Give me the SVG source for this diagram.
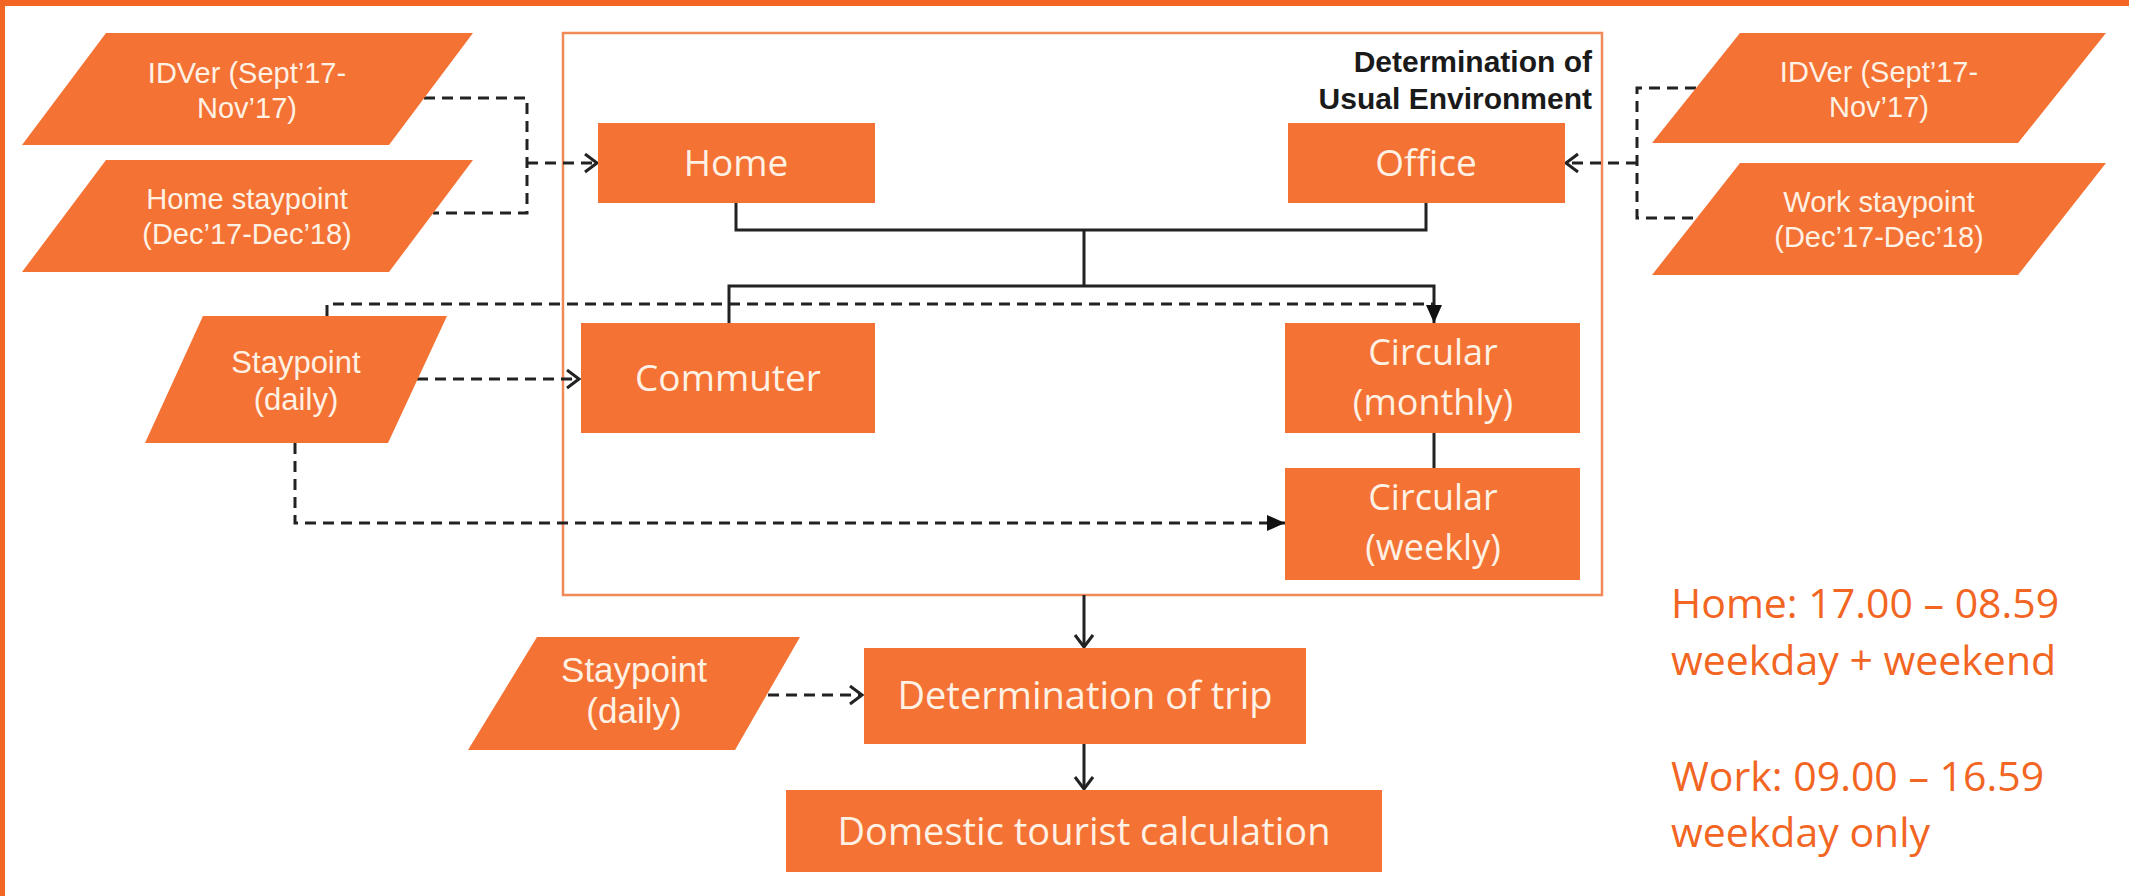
<svg xmlns="http://www.w3.org/2000/svg" width="2129" height="896" viewBox="0 0 2129 896">
<style>
.box{fill:#F37234;}
.lbl{font-family:"Open Sans","Liberation Sans",sans-serif;fill:#FFF1E4;text-anchor:middle;}
.arial{font-family:"Liberation Sans",Arial,sans-serif;fill:#FFF1E4;text-anchor:middle;}
.dash{fill:none;stroke:#222;stroke-width:3;stroke-dasharray:11 7;}
.solid{fill:none;stroke:#222;stroke-width:3;}
.note{font-family:"Open Sans","Liberation Sans",sans-serif;fill:#F26522;font-size:41px;}
</style>
<defs>
<marker id="open" markerUnits="userSpaceOnUse" markerWidth="18" markerHeight="22" refX="14" refY="10" orient="auto">
<path d="M2,1 L14,10 L2,19" fill="none" stroke="#222" stroke-width="3"/>
</marker>
<marker id="fill" markerUnits="userSpaceOnUse" markerWidth="20" markerHeight="18" refX="18" refY="9" orient="auto">
<path d="M0,1 L18,9 L0,17 z" fill="#111"/>
</marker>
</defs>
<rect x="0" y="0" width="2129" height="896" fill="#fff"/>
<rect x="0" y="0" width="2129" height="6" fill="#F26522"/>
<rect x="0" y="0" width="5" height="896" fill="#F26522"/>

<g id="container">
<rect x="563" y="33" width="1039" height="562" fill="none" stroke="#F08A58" stroke-width="2.5"/>
<text x="1592" y="72" font-family="Liberation Sans,Arial,sans-serif" font-weight="bold" font-size="30" fill="#1a1a1a" text-anchor="end">Determination of</text>
<text x="1592" y="109" font-family="Liberation Sans,Arial,sans-serif" font-weight="bold" font-size="30" fill="#1a1a1a" text-anchor="end">Usual Environment</text>
</g>

<g id="connectors">
<path class="dash" d="M424,98 H527 V213 H433"/>
<path class="dash" d="M527,163 H597" marker-end="url(#open)"/>
<path class="dash" d="M1696,88 H1637 V218 H1697"/>
<path class="dash" d="M1637,163 H1566" marker-end="url(#open)"/>
<path class="solid" d="M736,203 V230 H1426 V203"/>
<path class="solid" d="M1084,230 V286"/>
<path class="solid" d="M729,323 V286 H1434 V323" marker-end="url(#fill)"/>
<path class="dash" d="M327,316 V304 H1434"/>
<path class="dash" d="M417,379 H579" marker-end="url(#open)"/>
<path class="dash" d="M295,443 V523 H1285" marker-end="url(#fill)"/>
<path class="solid" d="M1434,433 V468" stroke-width="4"/>
<path class="solid" d="M1084,595 V647" stroke-width="2.5" marker-end="url(#open)"/>
<path class="dash" d="M768,695 H862" marker-end="url(#open)"/>
<path class="solid" d="M1084,744 V789" stroke-width="2.5" marker-end="url(#open)"/>
</g>

<g id="idver-left">
<polygon class="box" points="106,33 473,33 389,145 22,145"/>
<text class="arial" font-size="29" x="247" y="83">IDVer (Sept’17-</text>
<text class="arial" font-size="29" x="247" y="118">Nov’17)</text>
</g>
<g id="home-staypoint">
<polygon class="box" points="106,160 473,160 389,272 22,272"/>
<text class="arial" font-size="29" x="247" y="209">Home staypoint</text>
<text class="arial" font-size="29" x="247" y="244">(Dec’17-Dec’18)</text>
</g>
<g id="idver-right">
<polygon class="box" points="1740,33 2106,33 2018,143 1652,143"/>
<text class="arial" font-size="29" x="1879" y="82">IDVer (Sept’17-</text>
<text class="arial" font-size="29" x="1879" y="117">Nov’17)</text>
</g>
<g id="work-staypoint">
<polygon class="box" points="1740,163 2106,163 2018,275 1652,275"/>
<text class="arial" font-size="29" x="1879" y="212">Work staypoint</text>
<text class="arial" font-size="29" x="1879" y="247">(Dec’17-Dec’18)</text>
</g>
<g id="staypoint-daily">
<polygon class="box" points="203,316 447,316 388,443 145,443"/>
<text class="arial" font-size="31" x="296" y="373">Staypoint</text>
<text class="arial" font-size="31" x="296" y="410">(daily)</text>
</g>
<g id="home">
<rect class="box" x="598" y="123" width="277" height="80"/>
<text class="lbl" font-size="37" x="736" y="176">Home</text>
</g>
<g id="office">
<rect class="box" x="1288" y="123" width="277" height="80"/>
<text class="lbl" font-size="37" x="1426" y="176">Office</text>
</g>
<g id="commuter">
<rect class="box" x="581" y="323" width="294" height="110"/>
<text class="lbl" font-size="37" x="728" y="391">Commuter</text>
</g>
<g id="circular-monthly">
<rect class="box" x="1285" y="323" width="295" height="110"/>
<text class="lbl" font-size="36" x="1433" y="365">Circular</text>
<text class="lbl" font-size="36" x="1433" y="415">(monthly)</text>
</g>
<g id="circular-weekly">
<rect class="box" x="1285" y="468" width="295" height="112"/>
<text class="lbl" font-size="36" x="1433" y="510">Circular</text>
<text class="lbl" font-size="36" x="1433" y="560">(weekly)</text>
</g>
<g id="staypoint-daily-2">
<polygon class="box" points="537,637 800,637 735,750 468,750"/>
<text class="arial" font-size="35" x="634" y="682">Staypoint</text>
<text class="arial" font-size="35" x="634" y="723">(daily)</text>
</g>
<g id="determination-trip">
<rect class="box" x="864" y="648" width="442" height="96"/>
<text class="lbl" font-size="38" x="1085" y="709">Determination of trip</text>
</g>
<g id="domestic">
<rect class="box" x="786" y="790" width="596" height="82"/>
<text class="lbl" font-size="38" x="1084" y="845">Domestic tourist calculation</text>
</g>
<g id="notes">
<text class="note" x="1671" y="618">Home: 17.00 – 08.59</text>
<text class="note" x="1671" y="675">weekday + weekend</text>
<text class="note" x="1671" y="791">Work: 09.00 – 16.59</text>
<text class="note" x="1671" y="847">weekday only</text>
</g>
</svg>
